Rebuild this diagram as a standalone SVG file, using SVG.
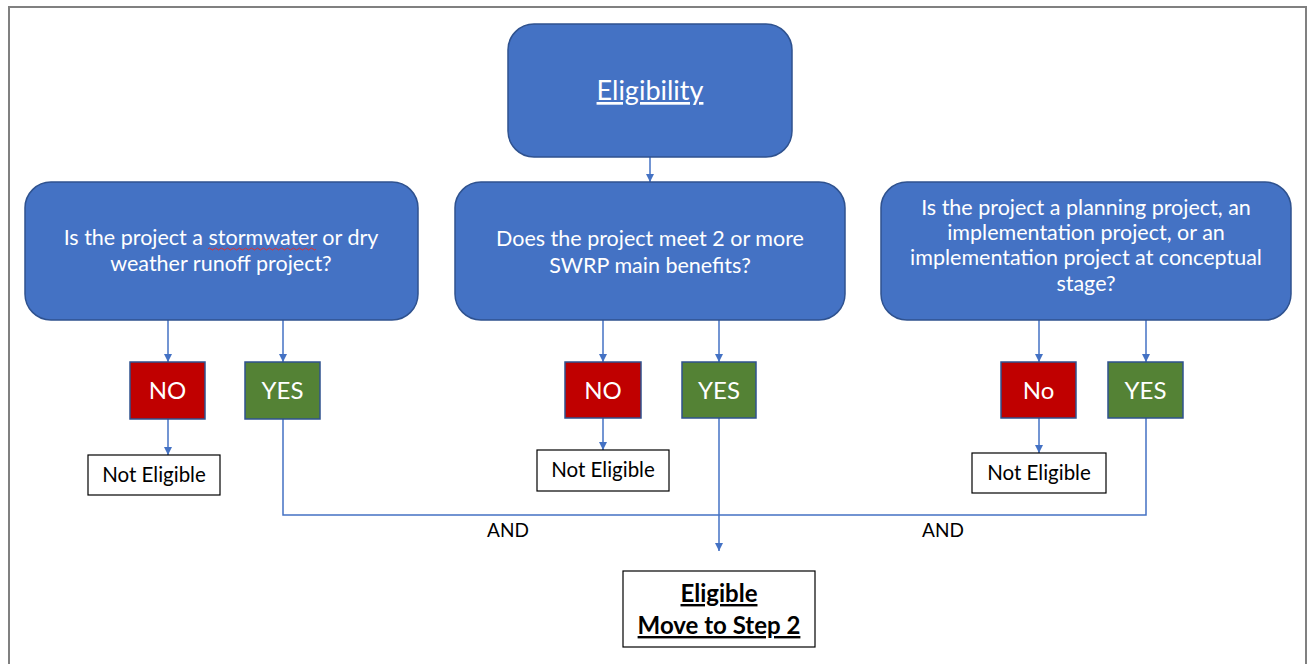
<svg xmlns="http://www.w3.org/2000/svg" width="1307" height="664" viewBox="0 0 1307 664">
<defs>
<style>
.q{fill:#4472C4;stroke:#2F528F;stroke-width:1.5}
.no{fill:#C00000;stroke:#2F528F;stroke-width:1.5}
.yes{fill:#548235;stroke:#2F528F;stroke-width:1.5}
.ne{fill:#FFFFFF;stroke:#000000;stroke-width:1.2}
.wt{font-family:Lato,"Liberation Sans",sans-serif;fill:#FFFFFF;text-anchor:middle}
.bt{font-family:Lato,"Liberation Sans",sans-serif;fill:#000000;text-anchor:middle}
.qt{font-size:21.5px}
.yn{font-size:24px}
.net{font-size:20.5px}
.c{fill:none;stroke:#4472C4;stroke-width:1.5}
</style>
<marker id="ah" viewBox="0 0 10 10" refX="10" refY="5" markerWidth="8" markerHeight="8" markerUnits="userSpaceOnUse" orient="auto">
<path d="M0,0 L10,5 L0,10 z" fill="#4472C4"/>
</marker>
</defs>
<rect width="1307" height="664" fill="#FFFFFF"/>
<path d="M9,664 L9,7 L1306,7 L1306,664" fill="none" stroke="#808080" stroke-width="2"/>

<g id="connectors">
<line class="c" x1="650" y1="157" x2="650" y2="182" marker-end="url(#ah)"/>
<line class="c" x1="168" y1="320" x2="168" y2="362" marker-end="url(#ah)"/>
<line class="c" x1="283" y1="320" x2="283" y2="362" marker-end="url(#ah)"/>
<line class="c" x1="168" y1="419" x2="168" y2="455" marker-end="url(#ah)"/>
<line class="c" x1="603" y1="320" x2="603" y2="362" marker-end="url(#ah)"/>
<line class="c" x1="719" y1="320" x2="719" y2="362" marker-end="url(#ah)"/>
<line class="c" x1="603" y1="418" x2="603" y2="450" marker-end="url(#ah)"/>
<line class="c" x1="1039" y1="320" x2="1039" y2="362" marker-end="url(#ah)"/>
<line class="c" x1="1146" y1="320" x2="1146" y2="362" marker-end="url(#ah)"/>
<line class="c" x1="1039" y1="418" x2="1039" y2="453" marker-end="url(#ah)"/>
<path class="c" d="M283,419 L283,515 L1146,515 L1146,418"/>
<line class="c" x1="719" y1="418" x2="719" y2="551" marker-end="url(#ah)"/>
<text class="bt" x="508" y="537" font-size="19" fill="#222">AND</text>
<text class="bt" x="943" y="537" font-size="19" fill="#222">AND</text>
</g>

<g id="eligibility">
<rect class="q" x="508" y="24" width="284" height="133" rx="26"/>
<text class="wt" x="650" y="100" font-size="27" text-decoration="underline">Eligibility</text>
</g>

<g id="q1">
<rect class="q" x="25" y="182" width="393" height="138" rx="26"/>
<text class="wt qt" x="221" y="245">Is the project a stormwater or dry</text>
<text class="wt qt" x="221" y="271">weather runoff project?</text>
</g>
<g id="q1-spell">
<path d="M208,249 q1.5,-2 3,0 t3,0 t3,0 t3,0 t3,0 t3,0 t3,0 t3,0 t3,0 t3,0 t3,0 t3,0 t3,0 t3,0 t3,0 t3,0 t3,0 t3,0 t3,0 t3,0 t3,0 t3,0 t3,0 t3,0 t3,0 t3,0 t3,0 t3,0 t3,0 t3,0 t3,0 t3,0 t3,0 t3,0 t3,0 t3,0" fill="none" stroke="#E03030" stroke-width="1"/>
</g>

<g id="q2">
<rect class="q" x="455" y="182" width="390" height="138" rx="26"/>
<text class="wt qt" x="650" y="246">Does the project meet 2 or more</text>
<text class="wt qt" x="650" y="273">SWRP main benefits?</text>
</g>

<g id="q3">
<rect class="q" x="881" y="182" width="410" height="138" rx="26"/>
<text class="wt qt" x="1086" y="215">Is the project a planning project, an</text>
<text class="wt qt" x="1086" y="240">implementation project, or an</text>
<text class="wt qt" x="1086" y="265">implementation project at conceptual</text>
<text class="wt qt" x="1086" y="291">stage?</text>
</g>

<g id="no1">
<rect class="no" x="130" y="362" width="75" height="57"/>
<text class="wt yn" x="167.5" y="399">NO</text>
</g>
<g id="yes1">
<rect class="yes" x="245" y="362" width="75" height="57"/>
<text class="wt yn" x="282.5" y="399">YES</text>
</g>
<g id="ne1">
<rect class="ne" x="88" y="455" width="132" height="40"/>
<text class="bt net" x="154" y="482">Not Eligible</text>
</g>

<g id="no2">
<rect class="no" x="565" y="362" width="76" height="56"/>
<text class="wt yn" x="603" y="399">NO</text>
</g>
<g id="yes2">
<rect class="yes" x="682" y="362" width="74" height="56"/>
<text class="wt yn" x="719" y="399">YES</text>
</g>
<g id="ne2">
<rect class="ne" x="537" y="450" width="132" height="41"/>
<text class="bt net" x="603" y="477">Not Eligible</text>
</g>

<g id="no3">
<rect class="no" x="1001" y="362" width="75" height="56"/>
<text class="wt yn" x="1038.5" y="399">No</text>
</g>
<g id="yes3">
<rect class="yes" x="1108" y="362" width="75" height="56"/>
<text class="wt yn" x="1145.5" y="399">YES</text>
</g>
<g id="ne3">
<rect class="ne" x="972" y="453" width="134" height="40"/>
<text class="bt net" x="1039" y="480">Not Eligible</text>
</g>

<g id="eligible">
<rect class="ne" x="623" y="571" width="192" height="76"/>
<text class="bt" x="719" y="602" font-size="24" font-weight="bold" text-decoration="underline">Eligible</text>
<text class="bt" x="719" y="634" font-size="24" font-weight="bold" text-decoration="underline">Move to Step 2</text>
</g>
</svg>
